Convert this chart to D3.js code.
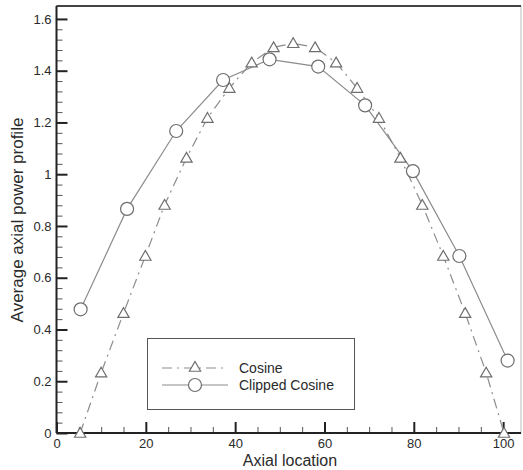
<!DOCTYPE html>
<html>
<head>
<meta charset="utf-8">
<script src="https://cdn.jsdelivr.net/npm/d3@7"></script>
<style>
    body { margin: 0; background: #fff; }
    svg { display: block; font-family: "Liberation Sans", Arial, sans-serif; }
</style>
</head>
<body>
<svg width="523" height="470"></svg>
<script>
// data
const cosX = [5.3, 10, 15, 19.9, 24.2, 29.1, 33.8, 38.7, 43.7, 48.6, 53, 57.9, 62.6, 67.3, 72.2, 77, 81.9, 86.6, 91.5, 96.2, 100.2];
const cosY = [0, 0.233, 0.463, 0.684, 0.881, 1.063, 1.217, 1.333, 1.431, 1.49, 1.506, 1.49, 1.431, 1.333, 1.217, 1.063, 0.881, 0.684, 0.463, 0.233, 0];
const clipX = [5.4, 15.8, 26.8, 37.3, 47.7, 58.6, 69.1, 79.8, 90.2, 101];
const clipY = [0.478, 0.866, 1.167, 1.364, 1.444, 1.416, 1.266, 1.012, 0.684, 0.28];
const xMajor = [0, 20, 40, 60, 80, 100];
const yMajor = [0, 0.2, 0.4, 0.6, 0.8, 1, 1.2, 1.4, 1.6];
const seriesNames = ['Cosine', 'Clipped Cosine'];

const LEFT = 56.5, RIGHT = 521, TOP = 6, BOTTOM = 433;
const LINE_COLOR = '#8c8c8c', MARK_COLOR = '#6e6e6e', AXIS_COLOR = '#222', TEXT_COLOR = '#2a2a2a';
const DASH = '10,5,2,5';

let svg = d3.select('svg');

let x = d3.scaleLinear().domain([0, 104]).range([LEFT, RIGHT]);
let y = d3.scaleLinear().domain([0, 1.65]).range([BOTTOM, TOP]);

// frame
svg.append('rect')
    .attr('x', LEFT).attr('y', TOP)
    .attr('width', RIGHT - LEFT).attr('height', BOTTOM - TOP)
    .attr('fill', 'none').attr('stroke', '#bbb').attr('stroke-width', 1);
svg.append('line')
    .attr('x1', LEFT).attr('x2', RIGHT).attr('y1', TOP).attr('y2', TOP)
    .attr('stroke', '#444').attr('stroke-width', 2);

// minor ticks (inward)
let xMinor = d3.range(0, 101, 5).filter(v => v % 20 !== 0);
let yMinor = d3.range(0, 41, 1).map(v => v * 0.04).filter((v, i) => i % 5 !== 0);

svg.append('g')
    .attr('transform', `translate(0,${BOTTOM})`)
    .call(d3.axisBottom(x).tickValues(xMinor).tickSize(-6).tickFormat(''))
    .call(g => g.select('.domain').remove())
    .selectAll('line').attr('stroke', '#555');

svg.append('g')
    .attr('transform', `translate(${LEFT},0)`)
    .call(d3.axisLeft(y).tickValues(yMinor).tickSize(-6).tickFormat(''))
    .call(g => g.select('.domain').remove())
    .selectAll('line').attr('stroke', '#555');

// major axes
let xAxis = svg.append('g')
    .attr('transform', `translate(0,${BOTTOM})`)
    .call(d3.axisBottom(x).tickValues(xMajor).tickSizeInner(-11).tickSizeOuter(0).tickPadding(5).tickFormat(d3.format('~g')));
xAxis.select('.domain').attr('d', `M${LEFT},0H${RIGHT}`);

let yAxis = svg.append('g')
    .attr('transform', `translate(${LEFT},0)`)
    .call(d3.axisLeft(y).tickValues(yMajor).tickSizeInner(-11).tickSizeOuter(0).tickPadding(5).tickFormat(d3.format('~g')));
yAxis.select('.domain').attr('d', `M0,${BOTTOM}V${TOP}`);

[xAxis, yAxis].forEach(g => {
    g.select('.domain').attr('stroke', AXIS_COLOR).attr('stroke-width', 2);
    g.selectAll('.tick line').attr('stroke', AXIS_COLOR).attr('stroke-width', 2);
    g.selectAll('.tick text').attr('fill', TEXT_COLOR).attr('font-size', 13)
        .attr('font-family', '"Liberation Sans", Arial, sans-serif');
});
xAxis.selectAll('.tick text').attr('dy', '0.85em').attr('y', 4);

// axis titles
svg.append('text')
    .attr('x', 290).attr('y', 466)
    .attr('text-anchor', 'middle').attr('font-size', 16).attr('fill', TEXT_COLOR)
    .text('Axial location');
svg.append('text')
    .attr('transform', 'translate(23,220) rotate(-90)')
    .attr('text-anchor', 'middle').attr('font-size', 17).attr('fill', TEXT_COLOR)
    .text('Average axial power profile');

// lines
let lineGen = d3.line().x(d => x(d[0])).y(d => y(d[1]));
let cosData = cosX.map((v, i) => [v, cosY[i]]);
let clipData = clipX.map((v, i) => [v, clipY[i]]);

svg.append('path').datum(cosData)
    .attr('d', lineGen).attr('fill', 'none')
    .attr('stroke', LINE_COLOR).attr('stroke-width', 1.2)
    .attr('stroke-dasharray', DASH);
svg.append('path').datum(clipData)
    .attr('d', lineGen).attr('fill', 'none')
    .attr('stroke', LINE_COLOR).attr('stroke-width', 1.2);

// markers
let triSym = d3.symbol().type(d3.symbolTriangle).size(55);

function drawTri(sel) {
    sel.attr('d', triSym).attr('fill', '#fff')
        .attr('stroke', MARK_COLOR).attr('stroke-width', 1.2);
}
function drawCirc(sel) {
    sel.attr('r', 6.5).attr('fill', '#fff')
        .attr('stroke', MARK_COLOR).attr('stroke-width', 1.2);
}

svg.append('g').selectAll('path')
    .data(cosData).enter().append('path')
    .attr('transform', d => `translate(${x(d[0])},${y(d[1]) + 1})`)
    .call(drawTri);

svg.append('g').selectAll('circle')
    .data(clipData).enter().append('circle')
    .attr('cx', d => x(d[0])).attr('cy', d => y(d[1]))
    .call(drawCirc);

// legend
let legend = svg.append('g');
legend.append('rect')
    .attr('x', 147.5).attr('y', 338.5).attr('width', 207).attr('height', 71)
    .attr('fill', '#fff').attr('stroke', '#555').attr('stroke-width', 1);

let rows = legend.selectAll('.row')
    .data(seriesNames).enter().append('g')
    .attr('class', 'row')
    .attr('transform', (d, i) => `translate(0,${368 + i * 17})`);

rows.append('line')
    .attr('x1', 162).attr('x2', 228).attr('y1', 0).attr('y2', 0)
    .attr('stroke', LINE_COLOR).attr('stroke-width', 1.2)
    .attr('stroke-dasharray', (d, i) => i === 0 ? DASH : null);

rows.filter((d, i) => i === 0).append('path')
    .attr('transform', 'translate(195,0)').call(drawTri);
rows.filter((d, i) => i === 1).append('circle')
    .attr('cx', 195).attr('cy', 0).call(drawCirc);

rows.append('text')
    .attr('x', 239).attr('y', 5)
    .attr('font-size', 14).attr('fill', TEXT_COLOR)
    .text(d => d);
</script>
</body>
</html>
